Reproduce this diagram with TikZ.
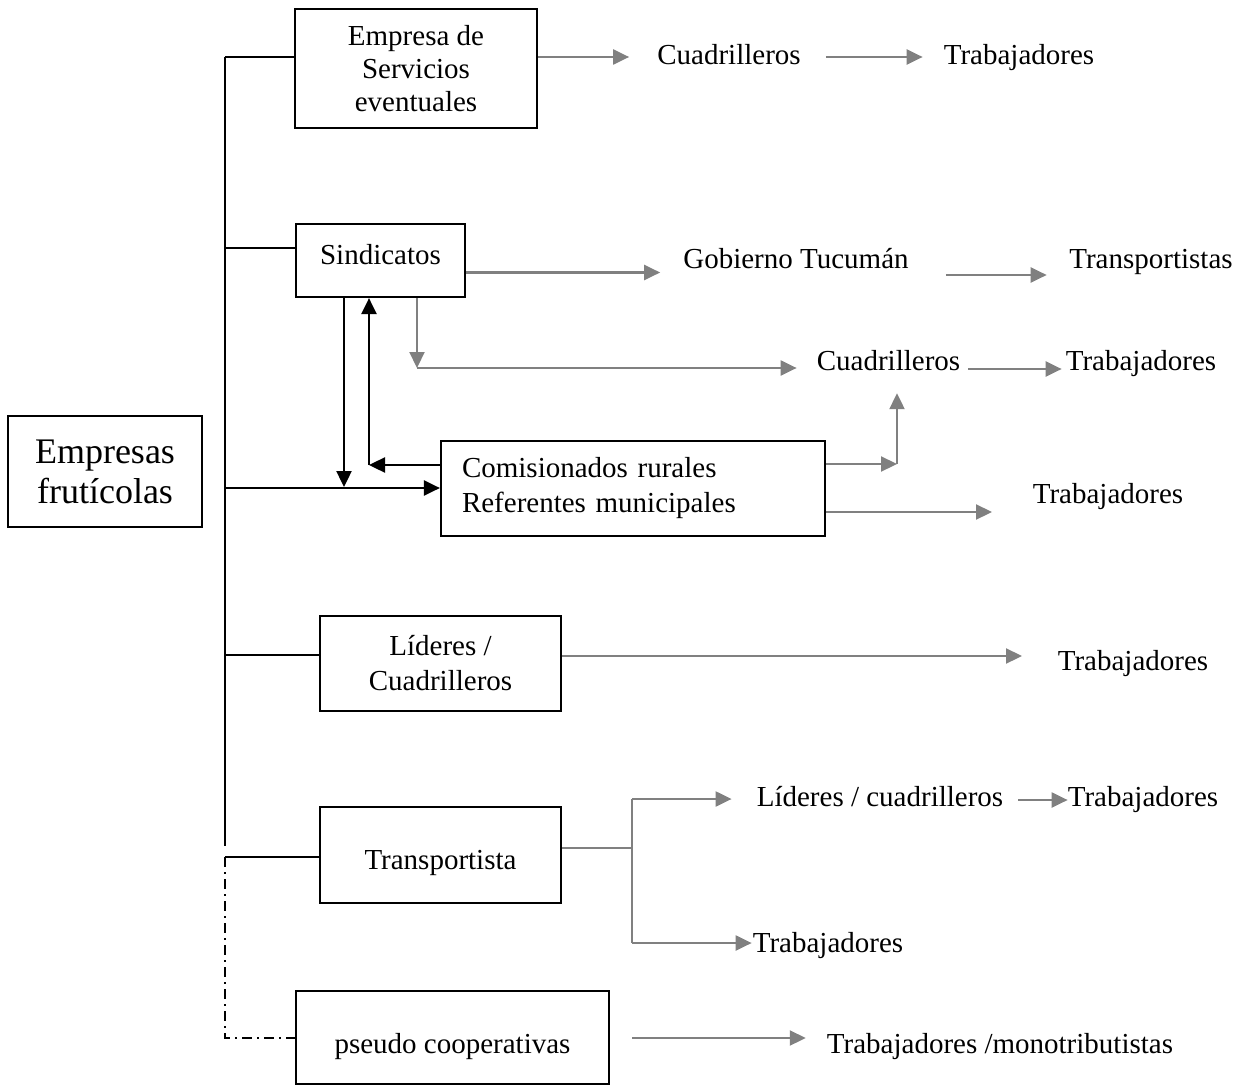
\documentclass[tikz,border=0pt]{standalone}
\usepackage{fontspec}
\setmainfont{Liberation Serif}
\usetikzlibrary{arrows.meta}
\newcommand{\myfs}{\fontsize{29}{33}\selectfont}
\newcommand{\mybigfs}{\fontsize{36}{40}\selectfont}
\begin{document}
\begin{tikzpicture}[x=1pt,y=-1pt,
  box/.style={draw, line width=2.2pt, inner sep=0pt, font=\myfs},
  lbl/.style={inner sep=0pt, font=\myfs, text height=20pt, text depth=7pt},
  bline/.style={line width=2.4pt, black},
  barrow/.style={line width=2.4pt, black, -{Triangle[length=16pt,width=15pt]}},
  gline/.style={line width=2.2pt, gray},
  garrow/.style={line width=2.2pt, gray, -{Triangle[length=16pt,width=15pt]}},
  dd/.style={line width=1.8pt, black, dash pattern=on 10pt off 5pt on 2pt off 5pt}
]
\useasboundingbox (0,0) rectangle (1247,1086);

% boxes
\node[box, font=\mybigfs, minimum width=194pt, minimum height=111pt, align=center] (emp) at (105,471.5) {Empresas\\frutícolas};
\node[box, minimum width=242pt, minimum height=119pt, align=center] (esv) at (416,68.5) {Empresa de\\Servicios\\eventuales};
\node[box, text height=20pt, text depth=12pt, minimum width=169pt, minimum height=73pt] (sind) at (380.5,260.5) {Sindicatos};
\node[box, minimum width=384pt, minimum height=95pt, text width=342pt, align=left, font=\fontsize{29}{35}\selectfont] (com) at (633,488.5) {Comisionados rurales\\Referentes municipales};
\node[box, minimum width=241pt, minimum height=95pt, align=center, font=\fontsize{29}{35}\selectfont] (lid) at (440.5,663.5) {Líderes /\\Cuadrilleros};
\node[box, text height=36pt, text depth=7pt, minimum width=241pt, minimum height=96pt] (tra) at (440.5,855) {Transportista};
\node[box, text height=39pt, text depth=7pt, minimum width=313pt, minimum height=93pt] (pse) at (452.5,1037.5) {pseudo cooperativas};

% free labels
\node[lbl] (c1) at (729,58) {Cuadrilleros};
\node[lbl] (t1) at (1019,58) {Trabajadores};
\node[lbl] (gob) at (796,262) {Gobierno Tucumán};
\node[lbl] (trp) at (1151,262) {Transportistas};
\node[lbl] (c2) at (888.5,364) {Cuadrilleros};
\node[lbl] (t2) at (1141,364) {Trabajadores};
\node[lbl] (t3) at (1108,497) {Trabajadores};
\node[lbl] (t4) at (1133,664) {Trabajadores};
\node[lbl] (lc) at (880,800) {Líderes / cuadrilleros};
\node[lbl] (t5) at (1143,800) {Trabajadores};
\node[lbl] (t6) at (828,946) {Trabajadores};
\node[lbl] (tm) at (1000,1047) {Trabajadores /monotributistas};

% coordinates
\coordinate (s0) at (225,57);
\coordinate (s1) at (225,846);
\coordinate (s2) at (225,248);
\coordinate (s3) at (225,488);
\coordinate (s4) at (225,655);
\coordinate (s5) at (225,857);
\coordinate (s6) at (225,1038);
\coordinate (k1) at (417,368);
\coordinate (k2) at (897,464);
\coordinate (k3) at (992,512);
\coordinate (k4) at (1022,656);
\coordinate (k5) at (344,487);
\coordinate (k6) at (369,465);
\coordinate (br) at (632,848);
\coordinate (bt) at (632,799);
\coordinate (bb) at (632,943);
\coordinate (ps) at (632,1038);

% black connectors
\draw[bline] (s0) -- (s1);
\draw[bline] (s0) -- (s0 -| esv.west);
\draw[bline] (s2) -- (s2 -| sind.west);
\draw[barrow] (s3) -- (s3 -| com.west);
\draw[barrow] (k5 |- sind.south) -- (k5);
\draw[barrow] (com.west |- k6) -- (k6);
\draw[barrow] (k6) -- (k6 |- sind.south);
\draw[bline] (s4) -- (s4 -| lid.west);
\draw[bline] (s5) -- (s5 -| tra.west);
\draw[dd] (s5) -- (s6) -- (s6 -| pse.west);

% gray connectors
\draw[garrow, shorten >=28pt] (esv.east |- s0) -- (s0 -| c1.west);
\draw[garrow] ([xshift=25pt,yshift=1pt]c1.east) -- ([xshift=-21pt,yshift=1pt]t1.west);
\draw[garrow] ([yshift=-12pt]sind.east) -- ([xshift=-23pt,yshift=-10.5pt]gob.west);
\draw[garrow] ([xshift=37pt,yshift=-13pt]gob.east) -- ([xshift=-22.5pt,yshift=-13pt]trp.west);
\draw[garrow] (k1 |- sind.south) -- (k1);
\draw[garrow, shorten >=20pt] (k1) -- (k1 -| c2.west);
\draw[garrow] ([xshift=8pt,yshift=-5pt]c2.east) -- ([xshift=-4pt,yshift=-5pt]t2.west);
\draw[garrow] (com.east |- k2) -- (k2);
\draw[garrow, shorten >=15.5pt] (k2) -- (k2 |- c2.south);
\draw[garrow] (com.east |- k3) -- (k3);
\draw[garrow] (lid.east |- k4) -- (k4);
\draw[gline] (tra.east |- br) -- (br);
\draw[gline] (bt) -- (bb);
\draw[garrow, shorten >=25pt] (bt) -- (bt -| lc.west);
\draw[garrow, shorten >=1pt] (bb) -- (bb -| t6.west);
\draw[garrow] ([xshift=15pt]lc.east) -- (t5.west);
\draw[garrow, shorten >=21pt] (ps) -- (ps -| tm.west);
\end{tikzpicture}
\end{document}
